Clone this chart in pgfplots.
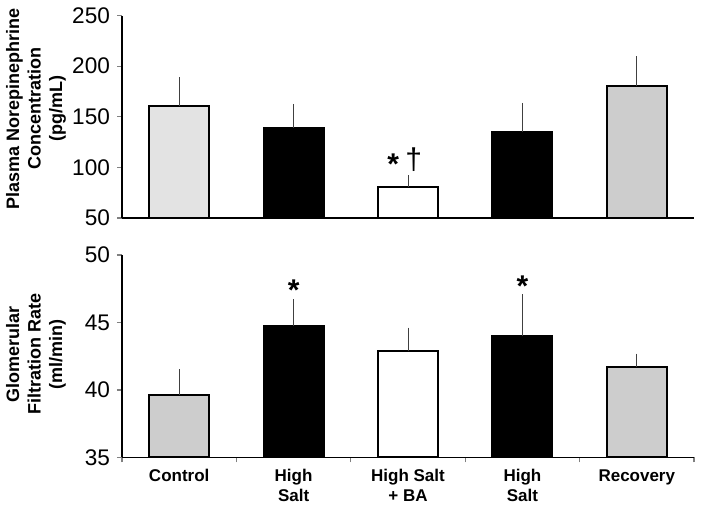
\documentclass[border=0pt]{standalone}
\usepackage{pgfplots}
\pgfplotsset{compat=1.18}
\usepackage{fontspec}
\setmainfont{Liberation Sans}
\definecolor{lg}{HTML}{E3E3E3}
\definecolor{mg}{HTML}{CDCDCD}
\begin{document}
\begin{tikzpicture}
\pgfplotsset{
 base/.style={
  scale only axis, width=286pt, height=101.2pt,
  xmin=-0.5, xmax=4.5,
  axis x line*=bottom, axis y line*=left,
  axis line style={line width=0.75pt},
  ybar, bar width=30pt, bar shift=0pt,
  tick align=outside,
  ytick style={line width=0.6pt},
  major tick length=2.5pt,
  yticklabel style={font=\fontsize{11.3}{12}\selectfont},
  /pgf/number format/assume math mode=true,
  ylabel style={font=\bfseries\fontsize{9}{10.75}\selectfont, align=center, at={(rel axis cs:0,0.5)}, anchor=south, yshift=24.5pt},
  error bars/y dir=plus, error bars/y explicit,
  error bars/error bar style={line width=0.5pt, black!75},
  error bars/error mark options={line width=0.5pt, mark size=1.4pt, black!75},
 },
 bars/.style={draw=black, line width=1pt},
}
\begin{axis}[base, anchor=south west, at={(0,0)},
  ymin=50, ymax=250, ytick={50,100,150,200,250},
  xtick=\empty,
  ylabel style={xshift=4pt},
  ylabel={Plasma Norepinephrine\\Concentration\\(pg/mL)},
  ]
\addplot[bars, fill=lg] coordinates {(0,160.2) +- (0,26.1)};
\addplot[bars, fill=black] coordinates {(1,139.4) +- (0,20.5)};
\addplot[bars, fill=white] coordinates {(2,80.7) +- (0,8.6)};
\addplot[bars, fill=black] coordinates {(3,134.5) +- (0,26.4)};
\addplot[bars, fill=mg] coordinates {(4,180.0) +- (0,27.0)};
\node[font=\bfseries\fontsize{15}{15}\selectfont] at (axis cs:1.87,103) {*};
\node[font=\fontsize{15}{15}\selectfont] at (axis cs:2.05,108) {\textdagger};
\end{axis}
\begin{axis}[base, anchor=north west, at={(0,-18.5pt)},
  ymin=35, ymax=50, ytick={35,40,45,50},
  xtick={0,1,2,3,4},
  xticklabels={Control,{High\\Salt},{High Salt\\+ BA},{High\\Salt},Recovery},
  xticklabel style={font=\bfseries\fontsize{8.5}{10}\selectfont, align=center},
  major x tick style={draw=none},
  minor xtick={-0.5,0.5,1.5,2.5,3.5,4.5},
  minor x tick style={line width=0.6pt},
  minor tick length=2.5pt,
  ylabel style={xshift=1pt},
  ylabel={Glomerular\\Filtration Rate\\(ml/min)},
  ]
\addplot[bars, fill=mg] coordinates {(0,39.66) +- (0,1.67)};
\addplot[bars, fill=black] coordinates {(1,44.76) +- (0,1.77)};
\addplot[bars, fill=white] coordinates {(2,42.86) +- (0,1.55)};
\addplot[bars, fill=black] coordinates {(3,43.97) +- (0,2.9)};
\addplot[bars, fill=mg] coordinates {(4,41.70) +- (0,0.79)};
\node[font=\bfseries\fontsize{15}{15}\selectfont] at (axis cs:1,47.4) {*};
\node[font=\bfseries\fontsize{15}{15}\selectfont] at (axis cs:3,47.7) {*};
\end{axis}
\pgfresetboundingbox
\path[use as bounding box] (-61pt,109pt) rectangle (291pt,-145.5pt);
\end{tikzpicture}
\end{document}
